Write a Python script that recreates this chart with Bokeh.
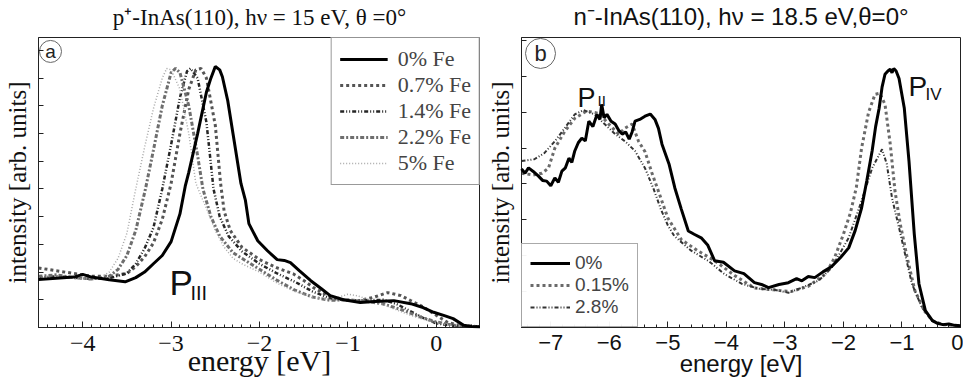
from bokeh.plotting import figure
from bokeh.models import Label, Legend, LegendItem, FixedTicker, Range1d, Title
from bokeh.layouts import row
from bokeh.embed import file_html
from bokeh.resources import INLINE

SERIF = "Liberation Serif"
SANS = "Liberation Sans"

# ---------------- panel (a): p+-InAs(110), hv = 15 eV ----------------
a_x_0 = [-4.5, -4.3, -4.1, -4.0, -3.9, -3.7, -3.52, -3.4, -3.3, -3.2, -3.1, -3.0, -2.9, -2.84,
         -2.8, -2.7, -2.6, -2.55, -2.5, -2.45, -2.42, -2.36, -2.3, -2.21, -2.16, -2.12, -2.02,
         -1.91, -1.8, -1.72, -1.65, -1.55, -1.42, -1.3, -1.2, -1.05, -0.86, -0.7, -0.48, -0.29,
         -0.15, -0.03, 0.1, 0.19, 0.31, 0.4, 0.5]
a_y_0 = [1.73, 1.78, 1.82, 1.92, 1.82, 1.72, 1.65, 1.8, 2.0, 2.3, 2.6, 3.1, 4.1, 5.1,
         5.6, 7.0, 8.5, 9.0, 9.42, 9.3, 9.05, 8.2, 7.0, 5.2, 4.6, 3.75, 3.13,
         2.77, 2.45, 2.42, 2.34, 2.05, 1.69, 1.4, 1.15, 1.0, 0.9, 0.94, 0.97, 0.86,
         0.72, 0.55, 0.42, 0.32, 0.08, 0.04, 0.03]

a_x_07 = [-4.5, -4.3, -4.1, -3.9, -3.7, -3.5, -3.4, -3.3, -3.2, -3.1, -3.0, -2.9, -2.8, -2.72,
          -2.66, -2.6, -2.5, -2.44, -2.4, -2.33, -2.2, -2.0, -1.8, -1.62, -1.5, -1.39, -1.16,
          -1.0, -0.86, -0.7, -0.55, -0.4, -0.29, -0.15, -0.03, 0.13, 0.3, 0.5]
a_y_07 = [2.15, 2.05, 1.95, 1.85, 1.85, 1.95, 2.2, 2.55, 3.05, 3.9, 5.2, 7.0, 8.6, 9.3,
          9.35, 9.0, 7.3, 5.2, 4.2, 3.5, 2.9, 2.45, 2.15, 1.94, 1.7, 1.44, 1.04,
          0.98, 0.97, 1.1, 1.26, 1.15, 0.97, 0.75, 0.5, 0.18, 0.05, 0.03]

a_x_14 = [-4.5, -4.3, -4.1, -3.9, -3.7, -3.5, -3.4, -3.3, -3.2, -3.1, -3.0, -2.9, -2.82, -2.78,
          -2.7, -2.6, -2.52, -2.45, -2.35, -2.2, -2.0, -1.8, -1.6, -1.4, -1.2, -1.0, -0.8,
          -0.6, -0.45, -0.3, -0.15, 0.0, 0.2, 0.5]
a_y_14 = [1.8, 1.85, 1.8, 1.75, 1.78, 1.95, 2.3, 2.85, 3.6, 5.0, 6.6, 8.3, 9.25, 9.35,
          9.0, 7.4, 5.0, 4.0, 3.3, 2.75, 2.3, 1.95, 1.65, 1.3, 1.05, 0.98, 0.98,
          1.0, 0.85, 0.6, 0.35, 0.15, 0.05, 0.03]

a_x_22 = [-4.5, -4.3, -4.1, -3.9, -3.7, -3.6, -3.5, -3.4, -3.29, -3.2, -3.1, -3.0, -2.95, -2.9,
          -2.8, -2.7, -2.64, -2.55, -2.45, -2.3, -2.1, -2.0, -1.8, -1.6, -1.4, -1.2, -1.0,
          -0.8, -0.6, -0.4, -0.2, 0.0, 0.2, 0.5]
a_y_22 = [1.85, 1.9, 1.8, 1.75, 1.85, 2.1, 2.6, 3.5, 5.0, 6.4, 8.0, 9.2, 9.35, 9.2,
          8.0, 6.2, 5.0, 4.0, 3.3, 2.7, 2.3, 2.1, 1.7, 1.35, 1.1, 0.98, 1.0,
          0.95, 0.85, 0.65, 0.4, 0.2, 0.08, 0.03]

a_x_5 = [-4.5, -4.2, -4.0, -3.8, -3.7, -3.6, -3.5, -3.4, -3.3, -3.2, -3.1, -3.05, -3.0, -2.9,
         -2.8, -2.72, -2.6, -2.5, -2.4, -2.3, -2.2, -2.0, -1.8, -1.6, -1.4, -1.2, -1.0,
         -0.9, -0.7, -0.5, -0.3, -0.1, 0.1, 0.3, 0.5]
a_y_5 = [1.8, 1.8, 1.75, 1.8, 2.0, 2.5, 3.4, 5.0, 6.5, 7.9, 9.0, 9.35, 9.3, 8.6,
         7.0, 5.2, 4.3, 3.5, 2.9, 2.5, 2.3, 2.0, 1.6, 1.3, 1.1, 1.0, 1.2,
         1.15, 0.95, 0.7, 0.45, 0.25, 0.1, 0.05, 0.03]

a_labels = ["0% Fe", "0.7% Fe", "1.4% Fe", "2.2% Fe", "5% Fe"]
a_ticks = [-4, -3, -2, -1, 0]

# ---------------- panel (b): n--InAs(110), hv = 18.5 eV ----------------
b_x_0 = [-7.5, -7.44, -7.38, -7.3, -7.21, -7.14, -7.07, -7.0, -6.93, -6.87, -6.81, -6.75,
         -6.69, -6.64, -6.59, -6.53, -6.47, -6.41, -6.35, -6.28, -6.21, -6.16, -6.13, -6.09,
         -6.04, -5.97, -5.9, -5.84, -5.78, -5.72, -5.66, -5.61, -5.56, -5.48, -5.39, -5.3,
         -5.22, -5.16, -5.1, -4.98, -4.88, -4.77, -4.65, -4.55, -4.43, -4.32, -4.2, -4.05,
         -3.86, -3.7, -3.52, -3.4, -3.28, -3.1, -2.94, -2.8, -2.71, -2.6, -2.49, -2.35, -2.2,
         -2.05, -1.91, -1.8, -1.69, -1.6, -1.51, -1.45, -1.39, -1.34, -1.29, -1.24, -1.2,
         -1.17, -1.14, -1.1, -1.05, -0.96, -0.88, -0.79, -0.71, -0.6, -0.48, -0.4, -0.3,
         -0.2, -0.1, 0.0]
b_y_0 = [4.42, 4.3, 4.45, 4.35, 4.22, 4.1, 4.08, 3.95, 4.17, 4.05, 4.36, 4.45,
         4.72, 4.6, 4.92, 5.15, 5.28, 5.2, 5.75, 5.6, 5.94, 5.8, 6.22, 5.85,
         5.94, 5.75, 5.67, 5.5, 5.39, 5.45, 5.25, 5.45, 5.75, 5.8, 5.89, 5.95,
         5.8, 5.55, 5.11, 4.56, 3.89, 3.3, 2.69, 2.6, 2.5, 2.3, 1.86, 1.82,
         1.58, 1.5, 1.25, 1.2, 1.11, 1.2, 1.25, 1.36, 1.3, 1.42, 1.39, 1.55, 1.7,
         1.95, 2.22, 2.7, 3.33, 4.1, 4.92, 5.6, 6.11, 6.7, 7.06, 7.15, 7.2,
         7.1, 7.22, 7.15, 6.94, 6.11, 4.64, 2.61, 1.22, 0.47, 0.19, 0.12, 0.08,
         0.1, 0.06, 0.05]

b_x_015 = [-7.5, -7.3, -7.15, -7.04, -6.93, -6.76, -6.59, -6.39, -6.18, -6.01, -5.84, -5.73,
           -5.61, -5.5, -5.39, -5.27, -5.15, -5.0, -4.77, -4.5, -4.2, -3.86, -3.52, -3.2,
           -2.9, -2.6, -2.3, -2.15, -2.0, -1.88, -1.78, -1.69, -1.57, -1.46, -1.38, -1.29,
           -1.2, -1.12, -1.03, -0.91, -0.78, -0.62, -0.48, -0.3, 0.0]
b_y_015 = [4.3, 4.25, 4.3, 4.44, 5.0, 5.47, 5.83, 6.03, 5.97, 5.67, 5.39, 5.56,
           5.67, 5.19, 4.9, 4.3, 3.75, 3.05, 2.45, 2.15, 1.86, 1.45, 1.1, 1.05,
           1.0, 1.15, 1.5, 1.95, 2.6, 3.2, 3.9, 5.0, 6.0, 6.5, 6.53, 6.22,
           5.11, 3.81, 2.89, 1.94, 1.03, 0.47, 0.19, 0.08, 0.05]

b_x_28 = [-7.5, -7.28, -7.11, -6.93, -6.76, -6.59, -6.44, -6.25, -6.08, -5.9, -5.73, -5.56,
          -5.39, -5.24, -5.12, -5.0, -4.89, -4.6, -4.31, -4.04, -3.74, -3.45, -3.18, -2.94,
          -2.71, -2.42, -2.2, -1.91, -1.69, -1.51, -1.34, -1.26, -1.17, -1.05, -0.96, -0.83,
          -0.66, -0.48, -0.3, 0.0]
b_y_28 = [4.64, 4.69, 4.86, 5.19, 5.56, 5.94, 6.06, 5.94, 5.67, 5.39, 5.19, 4.92,
          4.44, 3.85, 3.3, 2.85, 2.55, 2.14, 1.86, 1.5, 1.22, 1.08, 1.05, 0.97,
          1.11, 1.31, 1.67, 2.5, 3.53, 4.44, 4.97, 4.56, 3.61, 2.78, 2.14, 1.22,
          0.56, 0.19, 0.08, 0.05]

b_labels = ["0%", "0.15%", "2.8%"]
b_ticks = [-7, -6, -5, -4, -3, -2, -1, 0]

# ---------------- figure helpers ----------------
H = 384
TOP, BOTTOM = 36, 57


def base_fig(width, xr, yr, bl, br, ticks, minor, ymax_tick, title, title_font, title_size):
    p = figure(width=width, height=H, x_range=Range1d(*xr), y_range=Range1d(*yr),
               output_backend="svg", toolbar_location=None,
               min_border_left=bl, min_border_right=br,
               min_border_top=TOP, min_border_bottom=BOTTOM)
    p.title = Title(text=title, align="center", text_font=title_font,
                    text_font_size=title_size, text_font_style="normal",
                    text_color="#111111", standoff=0)
    # small spacer above the title pushes it down towards the frame
    p.add_layout(Title(text="\u00a0", text_font_size="6px", standoff=0), "above")
    p.grid.visible = False
    p.outline_line_color = "#222222"
    p.outline_line_width = 1
    p.background_fill_color = "white"
    p.border_fill_color = "white"
    p.xaxis.ticker = FixedTicker(ticks=ticks, minor_ticks=minor)
    p.xaxis.major_tick_in = 6
    p.xaxis.major_tick_out = 0
    p.xaxis.minor_tick_in = 3
    p.xaxis.minor_tick_out = 0
    p.xaxis.axis_line_color = "#222222"
    p.xaxis.major_tick_line_color = "#222222"
    p.xaxis.minor_tick_line_color = "#222222"
    p.xaxis.major_label_text_color = "#111111"
    p.xaxis.axis_label = "energy [eV]"
    p.xaxis.axis_label_text_font_style = "normal"
    p.xaxis.axis_label_text_color = "#111111"
    yt = list(range(0, ymax_tick + 1))
    p.yaxis.ticker = FixedTicker(ticks=yt, minor_ticks=[])
    p.yaxis.major_label_overrides = {t: "" for t in yt}
    p.yaxis.major_tick_in = 5
    p.yaxis.major_tick_out = 0
    p.yaxis.major_label_standoff = 0
    p.yaxis.axis_line_color = "#222222"
    p.yaxis.major_tick_line_color = "#222222"
    p.yaxis.axis_label = "intensity [arb. units]"
    p.yaxis.axis_label_text_font = SERIF
    p.yaxis.axis_label_text_font_size = "25px"
    p.yaxis.axis_label_text_font_style = "normal"
    p.yaxis.axis_label_text_color = "#111111"
    return p


# ---- panel a ----
A_L, A_R, A_W = 38, 0, 480
a_frame_w = A_W - A_L - A_R
a_xr = (-4.5, 0.5)
a_ppx = a_frame_w / (a_xr[1] - a_xr[0])
a_ppy = 27.8
a_yr = (0, (H - TOP - BOTTOM) / a_ppy)


def AX(px):
    return a_xr[0] + (px - A_L) / a_ppx


def AY(py):
    return (H - BOTTOM - py) / a_ppy


a_minor = [round(-4.5 + 0.1 * i, 2) for i in range(51)]
p1 = base_fig(A_W, a_xr, a_yr, A_L, A_R, a_ticks, a_minor, 10,
              "p\u207a-InAs(110), h\u03bd = 15 eV, \u03b8 =0\u00b0", SERIF, "23px")
p1.xaxis.major_label_text_font = SERIF
p1.xaxis.major_label_text_font_size = "24px"
p1.xaxis.major_label_standoff = 8
p1.xaxis.axis_label_text_font = SERIF
p1.xaxis.axis_label_text_font_size = "30px"
p1.xaxis.axis_label_standoff = -10
p1.yaxis.axis_label_standoff = 8

a_styles = [
    dict(line_color="#000000", line_width=3),
    dict(line_color="#555555", line_width=3, line_dash="3 3"),
    dict(line_color="#262626", line_width=2.5, line_dash="4 2 1 2 1 2"),
    dict(line_color="#6e6e6e", line_width=3, line_dash="4 2 2 2"),
    dict(line_color="#a8a8a8", line_width=1.5, line_dash="1 2"),
]
a_data = [(a_x_0, a_y_0), (a_x_07, a_y_07), (a_x_14, a_y_14), (a_x_22, a_y_22), (a_x_5, a_y_5)]
a_rends = []
for (xs, ys), st in zip(a_data, a_styles):
    a_rends.append(p1.line(x=xs, y=ys, **st))
a_rends[0].level = "overlay"

leg1 = Legend(items=[LegendItem(label=l, renderers=[r]) for l, r in zip(a_labels, a_rends)],
              location="top_right", margin=0, padding=8, spacing=0,
              label_height=22, glyph_height=22, glyph_width=48, label_standoff=10,
              label_text_font=SERIF, label_text_font_size="22px",
              border_line_color="#333333", border_line_width=1)
p1.add_layout(leg1)

p1.add_layout(Label(x=AX(169), y=AY(282), text="P", text_font=SANS, text_font_size="35px",
                    text_baseline="alphabetic", text_color="#111111"))
p1.add_layout(Label(x=AX(190), y=AY(292), text="III", text_font=SANS, text_font_size="20px",
                    text_baseline="alphabetic", text_color="#111111"))
p1.scatter(x=[AX(50)], y=[AY(50)], size=22, marker="circle", fill_color=None,
           line_color="#666666", line_width=1)
p1.add_layout(Label(x=AX(50), y=AY(50), text="a", text_align="center", text_baseline="middle",
                    text_font=SANS, text_font_size="19px", text_color="#222222"))

# ---- panel b ----
B_L, B_R, B_W = 41, 3, 483
b_frame_w = B_W - B_L - B_R
b_xr = (-7.5, 0.0)
b_ppx = b_frame_w / (b_xr[1] - b_xr[0])
b_ppy = 36.0
b_yr = (0, (H - TOP - BOTTOM) / b_ppy)
B_OFF = A_W


def BX(px):
    return b_xr[0] + (px - B_OFF - B_L) / b_ppx


def BY(py):
    return (H - BOTTOM - py) / b_ppy


b_minor = [round(-7.4 + 0.2 * i, 2) for i in range(38)]
p2 = base_fig(B_W, b_xr, b_yr, B_L, B_R, b_ticks, b_minor, 8,
              "n\u207b-InAs(110), h\u03bd = 18.5 eV,\u03b8=0\u00b0", SANS, "24px")
p2.xaxis.major_label_text_font = SANS
p2.xaxis.major_label_text_font_size = "22px"
p2.xaxis.major_label_standoff = 7
p2.xaxis.axis_label_text_font = SANS
p2.xaxis.axis_label_text_font_size = "24px"
p2.xaxis.axis_label_standoff = -3
p2.yaxis.axis_label_standoff = 8

b_styles = [
    dict(line_color="#000000", line_width=3),
    dict(line_color="#6a6a6a", line_width=3, line_dash="3 3"),
    dict(line_color="#333333", line_width=2, line_dash="4 2 1 2 1 2"),
]
b_data = [(b_x_0, b_y_0), (b_x_015, b_y_015), (b_x_28, b_y_28)]
b_rends = []
for (xs, ys), st in zip(b_data, b_styles):
    b_rends.append(p2.line(x=xs, y=ys, **st))
b_rends[0].level = "overlay"

leg2 = Legend(items=[LegendItem(label=l, renderers=[r]) for l, r in zip(b_labels, b_rends)],
              location="bottom_left", margin=0, padding=8, spacing=0,
              label_height=22, glyph_height=22, glyph_width=40, label_standoff=5,
              label_text_font=SANS, label_text_font_size="19px",
              border_line_color="#555555", border_line_width=1)
p2.add_layout(leg2)

p2.add_layout(Label(x=BX(577), y=BY(97), text="P", text_font=SANS, text_font_size="27px",
                    text_baseline="alphabetic", text_color="#111111"))
p2.add_layout(Label(x=BX(597), y=BY(99), text="II", text_font=SANS, text_font_size="15px",
                    text_baseline="alphabetic", text_color="#111111"))
p2.add_layout(Label(x=BX(908), y=BY(85), text="P", text_font=SANS, text_font_size="28px",
                    text_baseline="alphabetic", text_color="#111111"))
p2.add_layout(Label(x=BX(925), y=BY(93), text="IV", text_font=SANS, text_font_size="17px",
                    text_baseline="alphabetic", text_color="#111111"))
p2.scatter(x=[BX(540)], y=[BY(52)], size=30, marker="circle", fill_color=None,
           line_color="#666666", line_width=1)
p2.add_layout(Label(x=BX(540), y=BY(52), text="b", text_align="center", text_baseline="middle",
                    text_font=SANS, text_font_size="22px", text_color="#222222"))

layout = row(p1, p2, spacing=0)
open("out.html", "w").write(file_html(layout, INLINE))
